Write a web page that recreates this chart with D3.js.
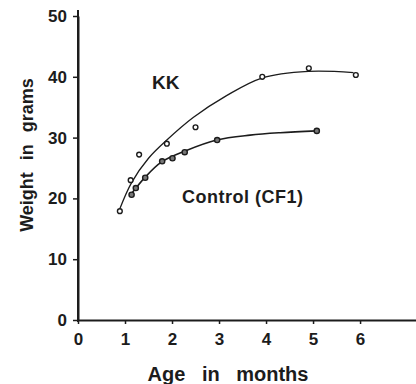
<!DOCTYPE html>
<html>
<head>
<meta charset="utf-8">
<script src="https://cdn.jsdelivr.net/npm/d3@7"></script>
<style>
  body { margin: 0; background: #fff; }
  text { font-family: "Liberation Sans", Arial, sans-serif; font-weight: bold; fill: #1c1c1c; }
</style>
</head>
<body>
<div id="chart"></div>
<script>
// observed points (age in months, weight in grams)
var kkAge = [0.89, 1.12, 1.30, 1.89, 2.50, 3.92, 4.91, 5.91];
var kkWeight = [17.9, 23.0, 27.2, 29.0, 31.7, 40.0, 41.4, 40.3];
var cfAge = [1.14, 1.23, 1.43, 1.79, 2.01, 2.27, 2.96, 5.08];
var cfWeight = [20.6, 21.7, 23.4, 26.1, 26.6, 27.6, 29.6, 31.1];

// hand-drawn fitted curves
var kkCurveAge = [0.89, 1.14, 1.5, 1.89, 2.45, 3.16, 3.91, 4.9, 5.86];
var kkCurveWeight = [18.3, 22.6, 26.6, 29.6, 33.3, 36.9, 39.8, 40.9, 40.7];
var cfCurveAge = [1.14, 1.43, 1.78, 2.28, 2.95, 3.66, 4.3, 5.08];
var cfCurveWeight = [20.8, 23.5, 26.0, 27.8, 29.6, 30.4, 30.8, 31.1];

var xTicks = [0, 1, 2, 3, 4, 5, 6];
var yTicks = [0, 10, 20, 30, 40, 50];

var width = 416, height = 384;
var ink = "#1c1c1c";

const svg = d3.select("#chart")
    .append("svg")
    .attr("width", width)
    .attr("height", height);

// scales
const xScale = d3.scaleLinear()
    .domain([0, 7.19])
    .range([78, 416]);

const yScale = d3.scaleLinear()
    .domain([0, 50])
    .range([320, 16]);

// axes
const xAxis = d3.axisBottom(xScale).tickValues(xTicks).tickSize(4).tickSizeOuter(0).tickPadding(9);
const yAxis = d3.axisLeft(yScale).tickValues(yTicks).tickSize(5).tickSizeOuter(0).tickPadding(6);

const xAxisGroup = svg.append("g")
    .attr("transform", `translate(0, ${yScale(0)})`)
    .call(xAxis);

const yAxisGroup = svg.append("g")
    .attr("transform", `translate(${xScale(0)}, 0)`)
    .call(yAxis);

[xAxisGroup, yAxisGroup].forEach(g => {
    g.select(".domain").attr("stroke", ink).attr("stroke-width", 2);
    g.selectAll(".tick line").attr("stroke", ink).attr("stroke-width", 1.5);
    g.selectAll(".tick text")
        .style("font-size", "17px")
        .style("font-family", "'Liberation Sans', Arial, sans-serif")
        .style("font-weight", "bold")
        .attr("fill", ink);
});

// little overshoot of the y axis line above the top tick
svg.append("line")
    .attr("x1", xScale(0)).attr("x2", xScale(0))
    .attr("y1", yScale(50) - 6).attr("y2", yScale(0) + 2)
    .attr("stroke", ink).attr("stroke-width", 2);

// axis titles
svg.append("text")
    .attr("x", 228)
    .attr("y", 381)
    .style("text-anchor", "middle")
    .style("font-size", "20px")
    .style("word-spacing", "11px")
    .text("Age in months");

svg.append("text")
    .attr("transform", "translate(33, 155) rotate(-90)")
    .style("text-anchor", "middle")
    .style("font-size", "18px")
    .style("word-spacing", "7px")
    .text("Weight in grams");

// curves
const line = d3.line()
    .x(d => xScale(d[0]))
    .y(d => yScale(d[1]))
    .curve(d3.curveCatmullRom.alpha(0.5));

svg.append("path")
    .attr("d", line(d3.zip(kkCurveAge, kkCurveWeight)))
    .attr("fill", "none")
    .attr("stroke", ink)
    .attr("stroke-width", 1.3);

svg.append("path")
    .attr("d", line(d3.zip(cfCurveAge, cfCurveWeight)))
    .attr("fill", "none")
    .attr("stroke", ink)
    .attr("stroke-width", 1.6);

// points
svg.selectAll(".kk")
    .data(d3.zip(kkAge, kkWeight))
    .join("circle")
    .attr("class", "kk")
    .attr("cx", d => xScale(d[0]))
    .attr("cy", d => yScale(d[1]))
    .attr("r", 2.4)
    .attr("fill", "#fff")
    .attr("stroke", ink)
    .attr("stroke-width", 1.4);

svg.selectAll(".cf")
    .data(d3.zip(cfAge, cfWeight))
    .join("circle")
    .attr("class", "cf")
    .attr("cx", d => xScale(d[0]))
    .attr("cy", d => yScale(d[1]))
    .attr("r", 2.6)
    .attr("fill", "#777")
    .attr("stroke", ink)
    .attr("stroke-width", 1.4);

// series labels
svg.append("text")
    .attr("x", 152)
    .attr("y", 89)
    .style("font-size", "19px")
    .text("KK");

svg.append("text")
    .attr("x", 182)
    .attr("y", 203)
    .style("font-size", "18px")
    .style("letter-spacing", "0.5px")
    .text("Control (CF1)");
</script>
</body>
</html>
